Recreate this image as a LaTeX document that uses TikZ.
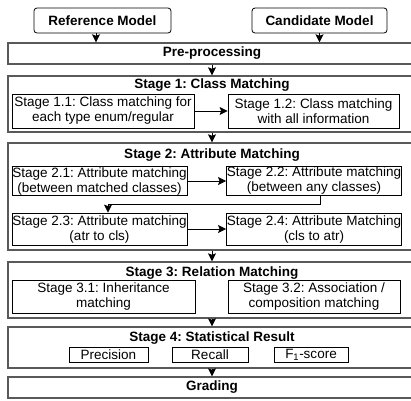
\documentclass[tikz,border=0pt]{standalone}
\usepackage{fontspec}
\setmainfont{Liberation Sans}
\usepackage{tikz}
\usetikzlibrary{arrows.meta, positioning, calc}
\frenchspacing

\tikzset{
  txt/.style={font=\fontsize{13.5pt}{15pt}\selectfont},
  inbox/.style={txt, draw=black, line width=0.8pt, align=center, inner sep=0.5pt},
  outbox/.style={draw=black!65, line width=1.4pt, minimum width=408pt, inner sep=0pt},
  modelbox/.style={inbox, rounded corners=3pt, font=\fontsize{13.5pt}{15pt}\selectfont\bfseries},
  stagetitle/.style={txt, font=\fontsize{13.5pt}{15pt}\selectfont\bfseries, inner sep=0pt},
  arr/.style={line width=0.8pt, -{Stealth[length=8pt, width=8pt, inset=1.5pt]}}
}

\begin{document}
\begin{tikzpicture}[x=1pt, y=-1pt]
  \useasboundingbox (0,0) rectangle (411,400);

  % Modelos de entrada
  \node[modelbox, minimum width=137pt, minimum height=25pt] (ref) at (102.5,20.5) {Reference Model};
  \node[modelbox, minimum width=135pt, minimum height=25pt] (cand) at (319.5,20.5) {Candidate Model};

  % Pre-procesado
  \node[outbox, minimum height=21pt] (pre) at (212,53.5) {};
  \node[stagetitle] (pret) at (212,53.5) {Pre-processing};
  \draw[arr] ([xshift=-6.5pt]ref.south) -- ([xshift=-6.5pt]ref.south |- pre.north);
  \draw[arr] (cand.south) -- (cand.south |- pre.north);

  % Stage 1
  \node[outbox, minimum height=56pt] (s1) at (212,104) {};
  \node[stagetitle] (s1t) at (212,85) {Stage 1: Class Matching};
  \node[inbox, minimum width=182pt, minimum height=34pt] (s11) at (103,111)
    {Stage 1.1: Class matching for\\each type enum/regular};
  \node[inbox, minimum width=171pt, minimum height=34pt] (s12) at (313.5,111)
    {Stage 1.2: Class matching\\with all information};
  \draw[arr] (s11.east) -- (s12.west);
  \draw[arr] (pre.south) -- (s1.north);

  % Stage 2
  \node[outbox, minimum height=107pt] (s2) at (212,196.5) {};
  \node[stagetitle] (s2t) at (212,155) {Stage 2: Attribute Matching};
  \node[inbox, minimum width=175pt, minimum height=28pt] (s21) at (99.5,181)
    {Stage 2.1: Attribute matching\\(between matched classes)};
  \node[inbox, minimum width=172pt, minimum height=28pt] (s22) at (314,181)
    {Stage 2.2: Attribute matching\\(between any classes)};
  \node[inbox, minimum width=175pt, minimum height=32pt] (s23) at (99.5,229)
    {Stage 2.3: Attribute matching\\(atr to cls)};
  \node[inbox, minimum width=172pt, minimum height=32pt] (s24) at (314,229)
    {Stage 2.4: Attribute Matching\\(cls to atr)};
  \coordinate (turn) at (108,204);
  \draw[arr] (s21.east) -- (s22.west);
  \draw[arr] ([xshift=6pt]s22.south) |- (turn) -- (turn |- s23.north);
  \draw[arr] (s23.east) -- (s24.west);
  \draw[arr] (s1.south) -- (s2.north);

  % Stage 3
  \node[outbox, minimum height=56pt] (s3) at (212,290) {};
  \node[stagetitle] (s3t) at (212,273) {Stage 3: Relation Matching};
  \node[inbox, minimum width=183pt, minimum height=33pt] (s31) at (103.5,296.5)
    {Stage 3.1: Inheritance\\matching};
  \node[inbox, minimum width=172pt, minimum height=33pt] (s32) at (314,296.5)
    {Stage 3.2: Association /\\composition matching};
  \draw[arr] (s2.south) -- (s3.north);

  % Stage 4
  \node[outbox, minimum height=41pt] (s4) at (212,347.5) {};
  \node[stagetitle] (s4t) at (212,338) {Stage 4: Statistical Result};
  \node[inbox, minimum width=79pt, minimum height=15pt] (prec) at (108.5,354.5) {Precision};
  \node[inbox, minimum width=76pt, minimum height=15pt] (rec) at (210,354.5) {Recall};
  \node[inbox, minimum width=74pt, minimum height=15pt] (fone) at (311,354.5) {F\textsubscript{1}-score};
  \draw[arr] (s3.south) -- (s4.north);

  % Nota final
  \node[outbox, minimum height=21pt] (grad) at (212,387.5) {};
  \node[stagetitle] (gradt) at (212,387.5) {Grading};
  \draw[arr] (s4.south) -- (grad.north);
\end{tikzpicture}
\end{document}
